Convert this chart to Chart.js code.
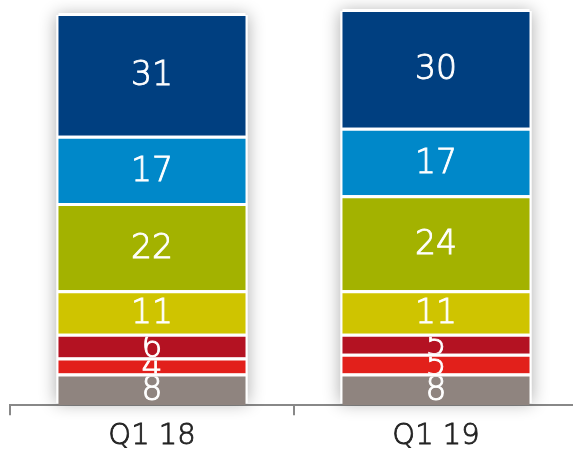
<!DOCTYPE html>
<html>
<head>
<meta charset="utf-8">
<script src="https://cdn.jsdelivr.net/npm/chart.js@4/dist/chart.umd.min.js"></script>
<style>
  html, body { margin: 0; padding: 0; background: #fff; overflow: hidden; }
  #wrap { width: 578px; height: 457px; }
</style>
</head>
<body>
<div id="wrap"><canvas id="myChart"></canvas></div>
<script>
const labels = ['Q1 18', 'Q1 19'];

// stacked from the bottom up
const grey = [8, 8];
const red = [4, 5];
const darkRed = [6, 5];
const yellow = [11, 11];
const green = [22, 24];
const lightBlue = [17, 17];
const darkBlue = [31, 30];

const series = [
  { data: grey, color: '#8f847f' },
  { data: red, color: '#e2201b' },
  { data: darkRed, color: '#b41222' },
  { data: yellow, color: '#cfc400' },
  { data: green, color: '#a3b200' },
  { data: lightBlue, color: '#0088c9' },
  { data: darkBlue, color: '#003f80' },
];

const FONT = '"DejaVu Sans", sans-serif';

// soft grey shadow behind each bar stack
const barShadow = {
  id: 'barShadow',
  beforeDatasetsDraw(chart) {
    const ctx = chart.ctx;
    const first = chart.getDatasetMeta(0).data;
    const last = chart.getDatasetMeta(chart.data.datasets.length - 1).data;
    ctx.save();
    first.forEach((el, i) => {
      const b = el.getProps(['x', 'base', 'width'], true);
      const top = last[i].getProps(['y'], true).y;
      ctx.shadowColor = 'rgba(0,0,0,0.32)';
      ctx.shadowBlur = 16;
      ctx.fillStyle = '#fff';
      ctx.fillRect(b.x - b.width / 2 - 2, top + 2, b.width + 4, b.base - top - 4);
    });
    ctx.restore();
  }
};

// value labels, clipped to their own segment
const segLabels = {
  id: 'segLabels',
  afterDatasetsDraw(chart) {
    const ctx = chart.ctx;
    chart.data.datasets.forEach((ds, di) => {
      chart.getDatasetMeta(di).data.forEach((el, i) => {
        const p = el.getProps(['x', 'y', 'base', 'width'], true);
        const cy = (p.y + 3 + p.base) / 2 + 1;
        ctx.save();
        ctx.beginPath();
        ctx.rect(p.x - p.width / 2, p.y + 3, p.width, p.base - p.y - 3);
        ctx.clip();
        ctx.fillStyle = '#fff';
        ctx.strokeStyle = '#fff';
        ctx.lineWidth = 0.9;
        ctx.font = '200 33px ' + FONT;
        ctx.textAlign = 'center';
        ctx.textBaseline = 'middle';
        ctx.fillText(ds.data[i], p.x, cy);
        ctx.strokeText(ds.data[i], p.x, cy);
        ctx.restore();
      });
    });
  }
};

const config = {
  type: 'bar',
  data: {
    labels: labels,
    datasets: series.map(s => ({
      data: s.data,
      backgroundColor: s.color,
      borderColor: '#fff',
      borderWidth: { top: 3, bottom: 0, left: 0, right: 0 },
      borderSkipped: false,
      barPercentage: 0.66,
      categoryPercentage: 1,
    }))
  },
  options: {
    responsive: true,
    maintainAspectRatio: false,
    animation: false,
    events: [],
    layout: { padding: { left: 10, right: 0, top: 9, bottom: 0 } },
    plugins: { legend: { display: false }, tooltip: { enabled: false } },
    scales: {
      x: {
        stacked: true,
        border: { display: true, color: '#888', width: 2 },
        grid: { display: true, drawOnChartArea: false, drawTicks: true, tickLength: 10, color: '#888', lineWidth: 2 },
        ticks: {
          color: '#222', padding: 6,
          textStrokeColor: '#222', textStrokeWidth: 0.8,
          font: { family: FONT, size: 29, weight: '200', lineHeight: 1.03 }
        }
      },
      y: {
        stacked: true,
        display: false,
        min: 0,
        max: 100
      }
    }
  },
  plugins: [barShadow, segLabels]
};

const myChart = new Chart(document.getElementById('myChart'), config);
</script>
</body>
</html>
